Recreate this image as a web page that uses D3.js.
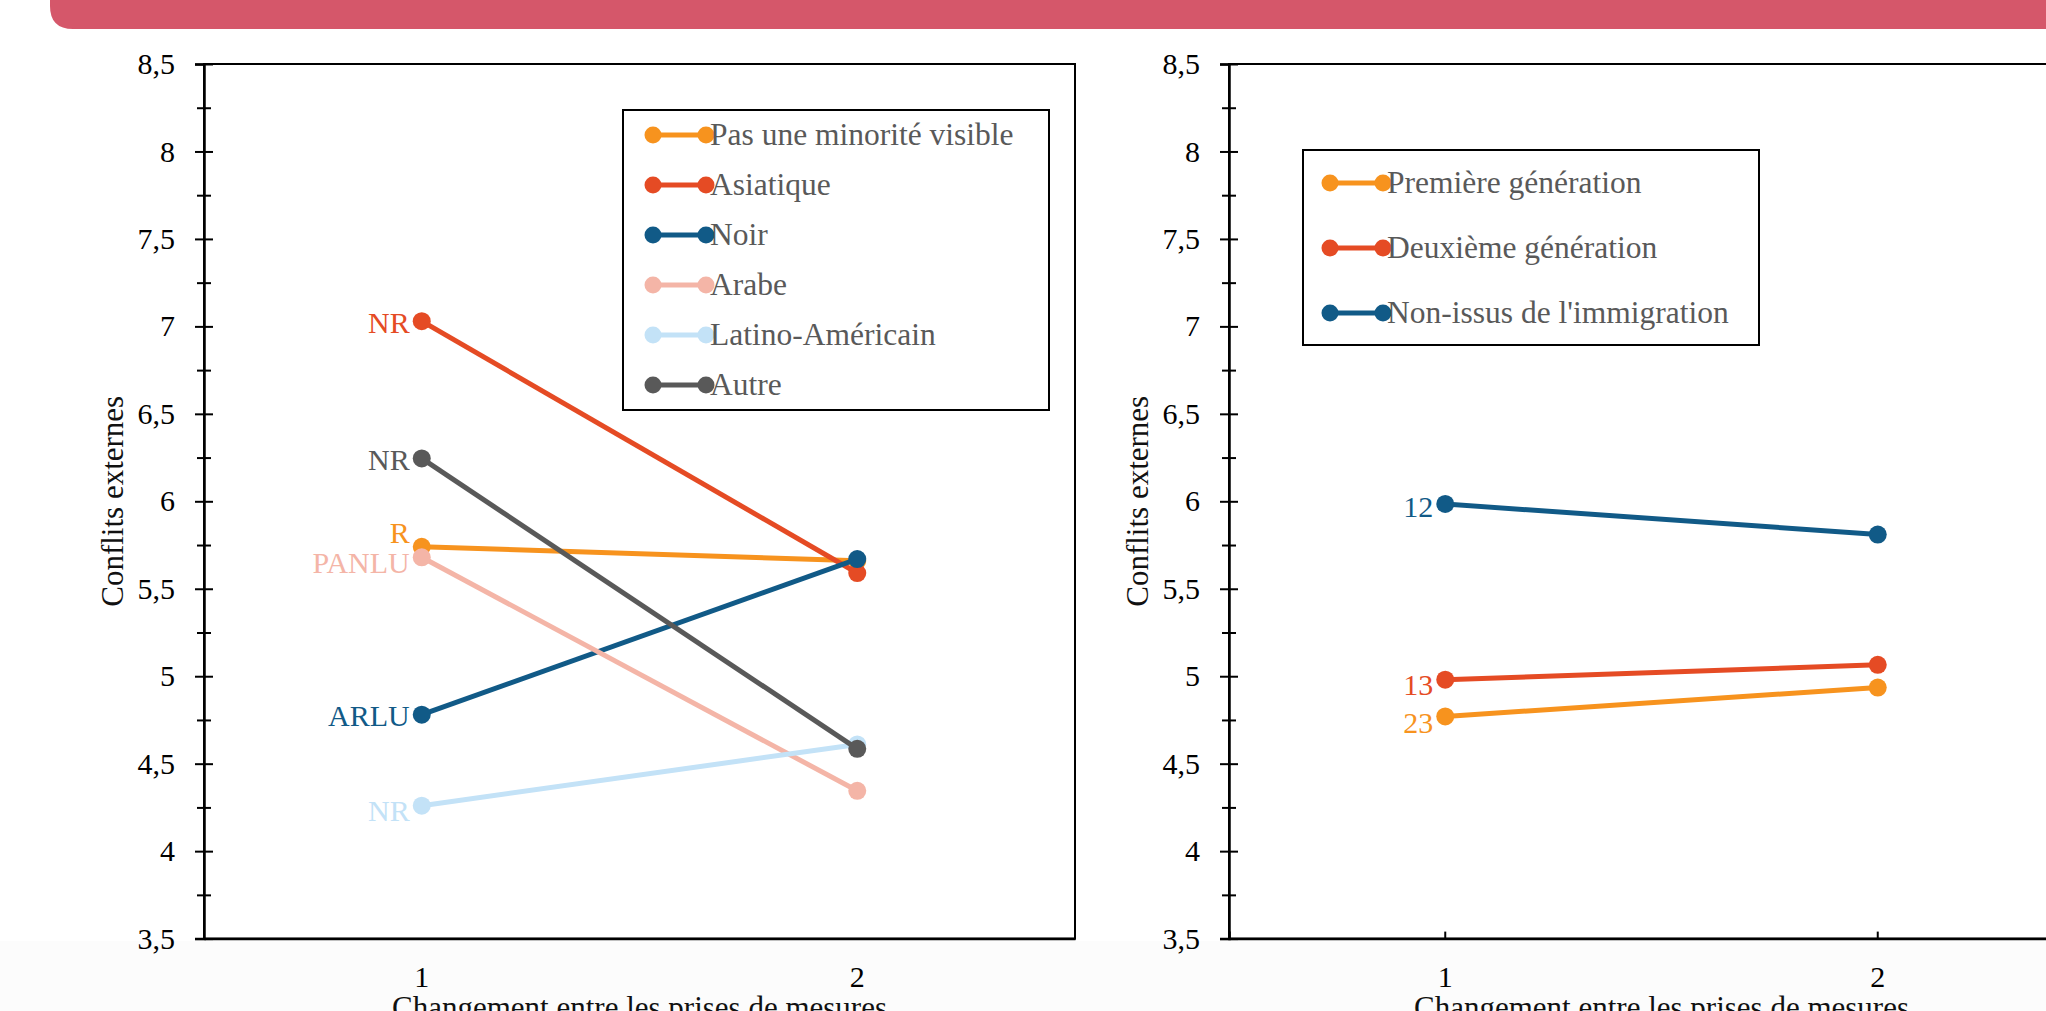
<!DOCTYPE html>
<html>
<head>
<meta charset="utf-8">
<script src="https://cdn.jsdelivr.net/npm/d3@7"></script>
<style>
  body { margin: 0; background: #fff; }
  text { font-family: "Liberation Serif", "Times New Roman", serif; }
</style>
</head>
<body>
<svg id="chart" width="2046" height="1011"></svg>
<script>
'use strict';

// categories (prises de mesures)
var categories = [1, 2];
var yTicksMajor = [3.5, 4, 4.5, 5, 5.5, 6, 6.5, 7, 7.5, 8, 8.5];
var yTicksMinor = [3.75, 4.25, 4.75, 5.25, 5.75, 6.25, 6.75, 7.25, 7.75, 8.25];

// left chart : minorites visibles
var namesLeft = ['Pas une minorité visible', 'Asiatique', 'Noir', 'Arabe', 'Latino-Américain', 'Autre'];
var valuesLeft = [
  [5.74, 5.66],
  [7.03, 5.59],
  [4.78, 5.67],
  [5.68, 4.345],
  [4.26, 4.61],
  [6.245, 4.585]
];
var labelsLeft = ['R', 'NR', 'ARLU', 'PANLU', 'NR', 'NR'];
var colorsLeft = ['#f7931e', '#e54b24', '#115a87', '#f4b5a7', '#c3e2f7', '#595959'];

// right chart : generation
var namesRight = ['Première génération', 'Deuxième génération', "Non-issus de l'immigration"];
var valuesRight = [
  [4.77, 4.935],
  [4.98, 5.065],
  [5.985, 5.81]
];
var labelsRight = ['23', '13', '12'];
var colorsRight = ['#f7931e', '#e54b24', '#115a87'];

var svg = d3.select('#chart');
var fmt = function(d) { return String(d).replace('.', ','); };

// bande rose en haut
svg.append('path')
  .attr('d', 'M50,0 H2046 V29 H73 Q50,29 50,6 Z')
  .attr('fill', '#d5576a');

// fond tres pale sous les axes
svg.append('rect')
  .attr('x', 0).attr('y', 941).attr('width', 2046).attr('height', 70)
  .attr('fill', '#fcfcfc');

var plotTop = 64, plotBottom = 938.6;
var y = d3.scaleLinear().domain([3.5, 8.5]).range([plotBottom, plotTop]);

function drawPanel(opt) {
  var g = svg.append('g');
  var x = d3.scaleBand().domain(categories).range([opt.left, opt.left + opt.width]);
  var cx = function(c) { return x(c) + x.bandwidth() / 2; };

  // cadre
  g.append('rect')
    .attr('x', opt.left).attr('y', plotTop)
    .attr('width', opt.width).attr('height', plotBottom - plotTop)
    .attr('fill', 'none').attr('stroke', '#000').attr('stroke-width', 2);

  // axe y majeur
  var ay = g.append('g')
    .attr('transform', 'translate(' + opt.left + ',0)')
    .call(d3.axisLeft(y).tickValues(yTicksMajor).tickSize(9).tickPadding(20).tickFormat(fmt));
  ay.select('.domain').attr('stroke-width', 2.5);
  ay.selectAll('.tick line').attr('x1', 9).attr('stroke-width', 2);
  ay.selectAll('.tick text').attr('font-size', 30).attr('fill', '#000')
    .attr('font-family', '"Liberation Serif", serif');

  // axe y mineur
  var am = g.append('g')
    .attr('transform', 'translate(' + opt.left + ',0)')
    .call(d3.axisLeft(y).tickValues(yTicksMinor).tickSize(7).tickFormat(''));
  am.select('.domain').remove();
  am.selectAll('.tick line').attr('x1', 7).attr('stroke-width', 2);

  // axe x
  var ax = g.append('g')
    .attr('transform', 'translate(0,' + plotBottom + ')')
    .call(d3.axisBottom(x).tickSize(opt.xTicks ? -7 : 0).tickPadding(0));
  ax.select('.domain').attr('stroke-width', 2.5);
  ax.selectAll('.tick line').attr('stroke-width', 2);
  ax.selectAll('.tick text').attr('font-size', 30).attr('fill', '#000')
    .attr('y', 48).attr('dy', null)
    .attr('font-family', '"Liberation Serif", serif');

  // titres des axes
  g.append('text')
    .attr('transform', 'translate(' + (opt.left - 81) + ',' + ((plotTop + plotBottom) / 2) + ') rotate(-90)')
    .attr('text-anchor', 'middle')
    .attr('font-size', 31)
    .attr('fill', '#111')
    .text('Conflits externes');

  g.append('text')
    .attr('x', opt.left + opt.width / 2).attr('y', 1018)
    .attr('text-anchor', 'middle')
    .attr('font-size', 31)
    .attr('fill', '#111')
    .text('Changement entre les prises de mesures');

  // series
  var line = d3.line()
    .x(function(d, i) { return cx(categories[i]); })
    .y(function(d) { return y(d); });

  opt.values.forEach(function(vals, s) {
    g.append('path')
      .datum(vals)
      .attr('d', line)
      .attr('fill', 'none')
      .attr('stroke', opt.colors[s])
      .attr('stroke-width', 5);
    g.selectAll(null)
      .data(vals)
      .enter().append('circle')
      .attr('cx', function(d, i) { return cx(categories[i]); })
      .attr('cy', function(d) { return y(d); })
      .attr('r', 9)
      .attr('fill', opt.colors[s]);
    g.append('text')
      .attr('x', cx(categories[0]) - 12)
      .attr('y', y(vals[0]) + opt.labelShift[s])
      .attr('dy', '0.34em')
      .attr('text-anchor', 'end')
      .attr('font-size', 30)
      .attr('fill', opt.colors[s])
      .text(opt.labels[s]);
  });

  // legende
  var L = opt.legend;
  g.append('rect')
    .attr('x', L.x).attr('y', L.y).attr('width', L.w).attr('height', L.h)
    .attr('fill', '#fff').attr('stroke', '#000').attr('stroke-width', 2);
  var item = g.selectAll('.leg')
    .data(opt.names)
    .enter().append('g')
    .attr('class', 'leg')
    .attr('transform', function(d, i) { return 'translate(0,' + (L.row0 + i * L.step) + ')'; });
  item.append('line')
    .attr('x1', L.lx).attr('x2', L.lx + 53)
    .attr('stroke', function(d, i) { return opt.colors[i]; })
    .attr('stroke-width', 5);
  item.selectAll('circle')
    .data(function(d, i) { return [i, i]; })
    .enter().append('circle')
    .attr('cx', function(d, j) { return L.lx + j * 53; })
    .attr('r', 8.5)
    .attr('fill', function(d) { return opt.colors[d]; });
  item.append('text')
    .attr('x', L.lx + 57)
    .attr('dy', '0.32em')
    .attr('font-size', 31.5)
    .attr('fill', '#595959')
    .text(function(d) { return d; });
}

drawPanel({
  left: 204, width: 871, xTicks: false,
  names: namesLeft, values: valuesLeft, labels: labelsLeft, colors: colorsLeft,
  labelShift: [-14, 2, 1, 6, 5, 1],
  legend: {x: 623, y: 110, w: 426, h: 300, lx: 653, row0: 135, step: 50}
});

drawPanel({
  left: 1229, width: 865, xTicks: true,
  names: namesRight, values: valuesRight, labels: labelsRight, colors: colorsRight,
  labelShift: [6, 5, 3],
  legend: {x: 1303, y: 150, w: 456, h: 195, lx: 1330, row0: 183, step: 65}
});
</script>
</body>
</html>
